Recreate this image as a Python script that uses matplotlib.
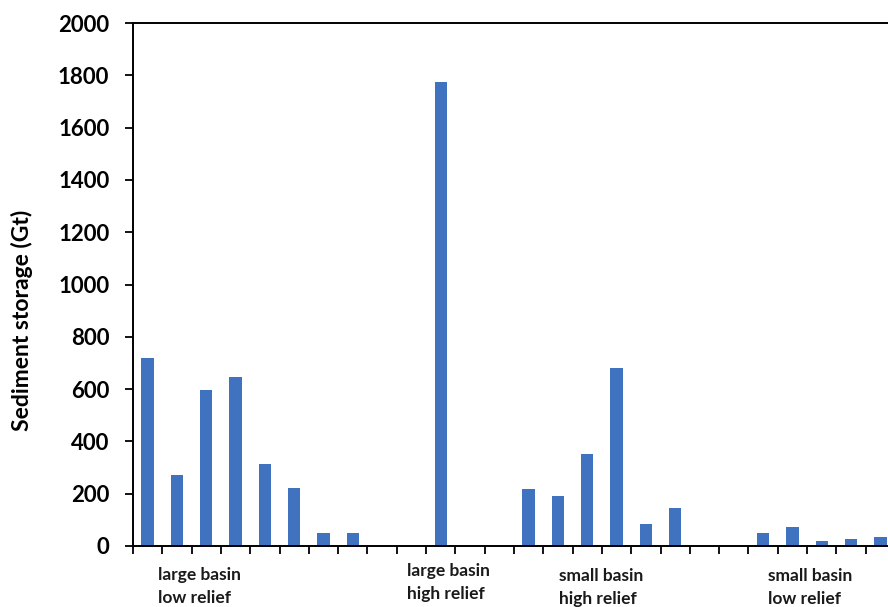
import numpy as np
import matplotlib
matplotlib.use("Agg")
import matplotlib.pyplot as plt

plt.rcParams['font.family'] = ['Lato', 'DejaVu Sans']

# Sediment storage per basin (Gt); zeros are empty slots between groups
storage = [720, 270, 595, 645, 315, 222, 48, 48, 0, 0,
           1775, 0, 0, 218, 191, 350, 680, 84, 145, 0,
           0, 48, 73, 18, 27, 34]
group_labels = ["large basin\nlow relief", "large basin\nhigh relief",
                "small basin\nhigh relief", "small basin\nlow relief"]
group_label_x = [0.35, 8.85, 14.05, 21.15]
y_ticks = [0, 200, 400, 600, 800, 1000, 1200, 1400, 1600, 1800, 2000]

W, H = 888, 607
fig = plt.figure(figsize=(W / 100, H / 100), dpi=100)
ax = fig.add_axes([133 / W, 61 / H, 762 / W, 523 / H])

x = np.arange(len(storage))
ax.bar(x, storage, width=0.42, color="#3F73C0", zorder=2)

ax.set_xlim(-0.5, len(storage) - 0.5)
ax.set_ylim(0, 2000)
ax.set_yticks(y_ticks)
ax.set_yticklabels([str(v) for v in y_ticks], fontsize=16, fontweight='bold')
ax.set_xticks(np.arange(-0.5, len(storage), 1.0))
ax.set_xticklabels([])
ax.tick_params(axis='both', direction='out', length=6, width=1.3, colors='black')
ax.tick_params(axis='y', pad=11)

for side in ['left', 'bottom', 'top', 'right']:
    ax.spines[side].set_linewidth(1.4)
    ax.spines[side].set_color('black')

fig.text(22 / W, 1 - 320 / H, "Sediment storage (Gt)", rotation=90,
         ha='center', va='center', fontsize=16.5, fontweight='bold')

label_top_px = [567, 563, 568, 568]
for lbl, gx, ty in zip(group_labels, group_label_x, label_top_px):
    ax.text(gx, -(ty - 546) / 523, lbl, transform=ax.get_xaxis_transform(),
            ha='left', va='top', fontsize=12.5, fontweight='bold',
            linespacing=1.55, color='#1a1a1a')

fig.savefig("out.png", dpi=100)
